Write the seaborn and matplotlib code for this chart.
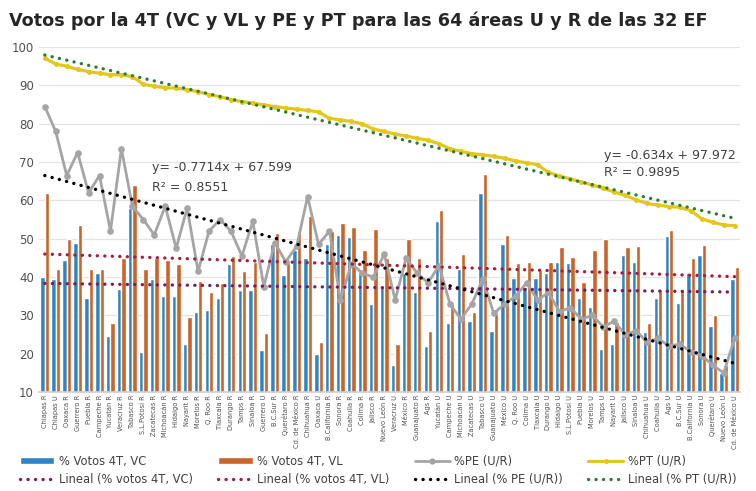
import numpy as np
import pandas as pd
import matplotlib
matplotlib.use("Agg")
import matplotlib.pyplot as plt
import seaborn as sns
from matplotlib.lines import Line2D
from matplotlib.patches import Patch

categories = [
    "Chiapas R", "Chiapas U", "Oaxaca R", "Guerrero R", "Puebla R", "Campeche R",
    "Yucatán R", "Veracruz R", "Tabasco R", "S.L.Potosí R", "Zacatecas R", "Michoacán R",
    "Hidalgo R", "Nayarit R", "Morelos R", "Q. Roo R", "Tlaxcala R", "Durango R",
    "Tamps R", "Sinaloa R", "Guerrero U", "B.C.Sur R", "Querétaro R", "Cd. de México R",
    "Chihuahua R", "Oaxaca U", "B.California R", "Sonora R", "Coahuila R", "Colima R",
    "Jalisco R", "Nuevo León R", "Veracruz U", "México R", "Guanajuato R", "Ags R",
    "Yucatán U", "Campeche U", "Michoacán U", "Zacatecas U", "Tabasco U", "Guanajuato U",
    "México U", "Q. Roo U", "Colima U", "Tlaxcala U", "Durango U", "Hidalgo U",
    "S.L.Potosí U", "Puebla U", "Morelos U", "Tamps U", "Nayarit U", "Jalisco U",
    "Sinaloa U", "Chihuahua U", "Coahuila U", "Ags U", "B.C.Sur U", "B.California U",
    "Sonora U", "Querétaro U", "Nuevo León U", "Cd. de México U",
]

vc = [40, 39.5, 44.5, 49, 34.5, 41, 24.5, 37, 58, 20.5, 39.5, 35, 35, 22.5, 31, 31.5,
      34.5, 43.5, 36.5, 36.5, 21, 48.5, 40.5, 47, 45, 20, 48.5, 51, 50.5, 41, 33, 37.5,
      17, 41, 36, 22, 54.5, 28, 42, 28.5, 62, 26, 48.5, 39.8, 37.5, 39.8, 41, 44,
      43.6, 34.5, 32.3, 21.3, 22.6, 45.8, 44, 25.7, 34.5, 50.6, 33.2, 41, 45.8, 27.1, 15, 39.5]

vl = [62, 42, 50, 53.5, 42, 42, 28, 45, 64, 42, 45, 44.5, 43.5, 29.5, 39, 36,
      38.5, 45.5, 41.5, 44, 25.5, 51.5, 44, 52, 56, 23, 52, 54, 53, 47, 52.5, 45,
      22.5, 50, 45, 26, 57.5, 33, 46, 31, 67, 30.5, 51, 43.6, 44, 41.9, 44, 47.8,
      45.3, 38.7, 47, 50, 28.3, 47.8, 48.2, 27.9, 36.6, 52.3, 36.6, 45.1, 48.4, 30.2, 17, 42.5]

pe = [84.5, 78, 66.5, 72.5, 62, 66.5, 52, 73.5, 58.5, 55, 51, 58.5, 47.5, 58, 41.5, 52,
      55, 52, 45.5, 54.5, 37.5, 49, 44, 48, 61, 48.5, 52, 34, 43.5, 41, 40, 46,
      34, 45, 41, 38.5, 43, 33, 29, 33, 39.5, 30.5, 33, 35, 38.5, 34, 36, 31,
      32, 29, 30, 27, 28.5, 25, 26, 23, 24, 22, 22.5, 20.5, 19.5, 17, 15, 24]

pt = [97.1, 95.6, 95, 94.2, 93.6, 93.2, 92.8, 92.8, 92.3, 90.3, 89.8, 89.4, 89.3, 88.9, 88.4, 87.6,
      87.1, 86.3, 85.8, 85.4, 84.9, 84.5, 84.1, 83.8, 83.5, 83.1, 81.4, 81, 80.6, 80, 78.6, 78,
      77.3, 76.8, 76.2, 75.7, 74.8, 73.5, 72.8, 72.2, 71.9, 71.5, 71, 70.3, 69.8, 69.3, 67.3, 66.4,
      65.6, 64.8, 64.0, 63.2, 62.2, 61.3, 60.2, 59.2, 58.8, 58.4, 58.2, 57.3, 55.2, 54.3, 53.6, 53.4]

eq_pe = ["y= -0.7714x + 67.599", "R² = 0.8551"]
eq_pt = ["y= -0.634x + 97.972", "R² = 0.9895"]
title = "Votos por la 4T (VC y VL y PE y PT para las 64 áreas U y R de las 32 EF"

C_VC = "#2E84C6"
C_VL = "#C9652A"
C_PE = "#A5A5A5"
C_PT = "#E3C71C"
C_TVC = "#7A1E5A"
C_TVL = "#A3213F"
C_TPE = "#000000"
C_TPT = "#2E7D32"

sns.set_theme(style="white")
plt.rcParams['font.family'] = ['DejaVu Sans']

fig = plt.figure(figsize=(7.56, 4.91), dpi=100)
ax = fig.add_axes([0.052, 0.2016, 0.927, 0.7024])

n = len(categories)
pos = np.arange(n)
df = pd.DataFrame({
    "pos": np.concatenate([pos, pos]),
    "val": vc + vl,
    "serie": ["VC"] * n + ["VL"] * n,
})
sns.barplot(data=df, x="pos", y="val", hue="serie", hue_order=["VC", "VL"],
            palette=[C_VC, C_VL], width=0.8, saturation=1, errorbar=None,
            legend=False, ax=ax, zorder=2)

sns.lineplot(x=pos, y=pe, color=C_PE, linewidth=2.0, marker="o", markersize=4.8,
             markeredgewidth=0, ax=ax, zorder=3)
sns.lineplot(x=pos, y=pt, color=C_PT, linewidth=2.3, marker="o", markersize=3.6,
             markeredgewidth=0, ax=ax, zorder=3)

dot = (0, (0.05, 2.2))
xfit = pos + 1
for series, col in [(vc, C_TVC), (vl, C_TVL), (pe, C_TPE), (pt, C_TPT)]:
    m, b = np.polyfit(xfit, series, 1)
    sns.lineplot(x=pos, y=m * xfit + b, color=col, linewidth=2.4, ax=ax, zorder=4,
                 linestyle=dot, dash_capstyle="round")

ax.set_xlim(-0.5, n - 0.5)
ax.set_ylim(10, 100)
ax.set_yticks(np.arange(10, 101, 10))
ax.tick_params(axis="y", labelsize=8.5, labelcolor="#505050", length=0, pad=4)
ax.set_xticks(pos)
ax.set_xticklabels(categories, rotation=90, fontsize=4.8, color="#505050")
ax.tick_params(axis="x", length=0, pad=2)
ax.set_xlabel("")
ax.set_ylabel("")
ax.yaxis.grid(True, color="#E3E3E3", linewidth=0.9)
ax.set_axisbelow(True)
for s in ["top", "right", "left"]:
    ax.spines[s].set_visible(False)
ax.spines["bottom"].set_color("#D0D0D0")

fig.text(0.012, 0.958, title, fontsize=12.7, fontweight="bold", color="#262626",
         va="center", ha="left")

fig.text(0.201, 0.658, eq_pe[0], fontsize=9, color="#404040", va="center")
fig.text(0.201, 0.619, eq_pe[1], fontsize=9, color="#404040", va="center")
fig.text(0.799, 0.684, eq_pt[0], fontsize=9, color="#404040", va="center")
fig.text(0.799, 0.648, eq_pt[1], fontsize=9, color="#404040", va="center")

handles = [
    Patch(facecolor=C_VC), Line2D([], [], color=C_TVC, lw=2.4, linestyle=dot, dash_capstyle="round"),
    Patch(facecolor=C_VL), Line2D([], [], color=C_TVL, lw=2.4, linestyle=dot, dash_capstyle="round"),
    Line2D([], [], color=C_PE, lw=2.0, marker="o", markersize=4.5, markeredgewidth=0),
    Line2D([], [], color=C_TPE, lw=2.4, linestyle=dot, dash_capstyle="round"),
    Line2D([], [], color=C_PT, lw=2.3, marker="o", markersize=3.6, markeredgewidth=0),
    Line2D([], [], color=C_TPT, lw=2.4, linestyle=dot, dash_capstyle="round"),
]
labels = [
    "% Votos 4T, VC", "Lineal (% votos 4T, VC)",
    "% Votos 4T, VL", "Lineal (% votos 4T, VL)",
    "%PE (U/R)", "Lineal (% PE (U/R))",
    "%PT (U/R)", "Lineal (% PT (U/R))",
]
fig.legend(handles, labels, ncol=4, loc="center", bbox_to_anchor=(0.5, 0.042),
           frameon=False, fontsize=8.3, handlelength=3.0, handleheight=0.6,
           columnspacing=2.2, labelspacing=0.45, handletextpad=0.4,
           labelcolor="#404040")

fig.savefig("out.png", dpi=100)
